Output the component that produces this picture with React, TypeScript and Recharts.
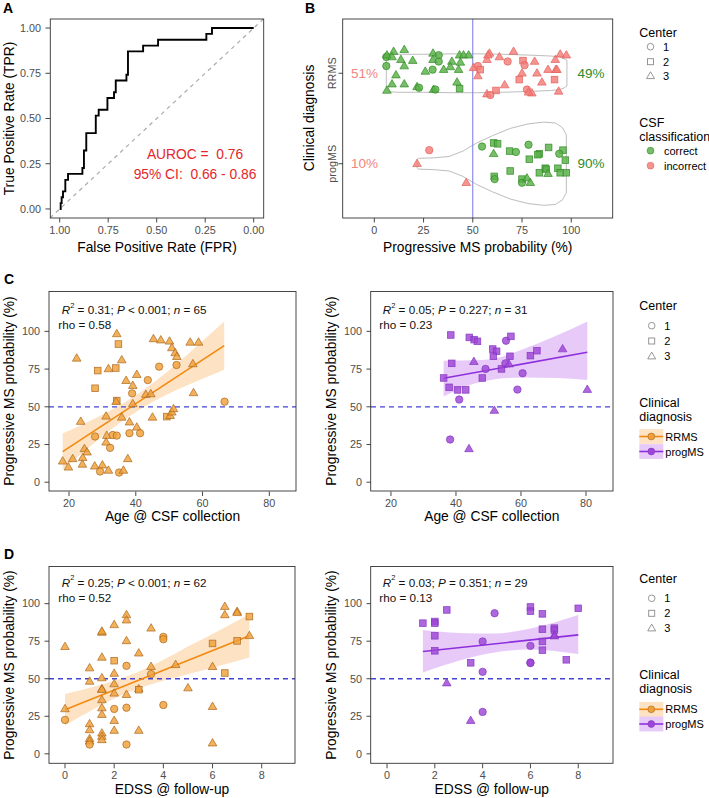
import React from 'react';
import { ComposedChart, XAxis, YAxis, Line, Area, Scatter, ReferenceLine } from 'recharts';

const FONT = '"Liberation Sans", Arial, Helvetica, sans-serif';
const TICK = { fontSize: 10.8, fill: '#4d4d4d', fontFamily: FONT };

// ---------- Panel A: ROC curve (specificity on a reversed axis = FPR) ----------
const rocSpecificity = [1, 0.995, 0.99, 0.983, 0.971, 0.957, 0.883, 0.875, 0.863, 0.814, 0.799, 0.754, 0.72, 0.711, 0.656, 0.648, 0.57, 0.493, 0.244, 0.215, 0];
const rocSensitivity = [0, 0.032, 0.065, 0.097, 0.161, 0.194, 0.226, 0.323, 0.419, 0.516, 0.548, 0.613, 0.645, 0.71, 0.742, 0.871, 0.903, 0.935, 0.968, 1, 1];
const chanceX = [1.05, -0.05];
const chanceY = [-0.05, 1.05];
const unitTicks = [0, 0.25, 0.5, 0.75, 1];
const aurocLines = ['AUROC =  0.76', '95% CI:  0.66 - 0.86'];

// ---------- Panel B: CSF classifier probability by clinical diagnosis ----------
// [probability %, vertical jitter, center]
const rrmsCorrect: number[][] = [
  [6.1, 0.18, 1], [6.4, 0.2, 3], [9.8, 0.24, 3], [9.0, 0.18, 3], [15.2, 0.26, 3], [13.5, 0.15, 3], [19.5, 0.14, 3],
  [6.1, 0.08, 1], [11.0, -0.02, 3], [15.2, 0.08, 3], [9.0, -0.12, 3], [15.2, -0.12, 3], [6.4, -0.19, 3], [21.7, -0.15, 3],
  [22.7, -0.16, 1], [25.9, 0.02, 3], [29.8, 0.22, 3], [32.7, 0.2, 1], [29.8, 0.15, 3], [32.7, 0.13, 1], [29.6, 0.04, 1],
  [35.2, 0.04, 3], [30.1, -0.18, 3], [31.0, -0.18, 1], [39.4, 0.13, 3], [38.6, 0.07, 3], [42.8, 0.04, 3], [43.3, 0.2, 3],
  [45.3, 0.2, 3], [47.9, 0.2, 3], [43.7, 0.12, 3], [42.0, -0.1, 3], [43.3, -0.17, 2],
];
const rrmsIncorrect: number[][] = [
  [50.4, 0.06, 3], [52.6, 0.08, 1], [53.8, 0.04, 2], [52.6, -0.03, 3], [57.2, 0.15, 3], [58.5, 0.22, 3], [57.7, 0.2, 3],
  [63.5, 0.18, 3], [67.7, 0.13, 1], [70.7, 0.24, 3], [75.5, 0.14, 2], [76.3, 0.09, 1], [81.4, 0.13, 3], [75.0, 0.0, 3],
  [73.6, -0.07, 2], [66.2, -0.13, 3], [61.8, -0.19, 2], [57.2, -0.23, 3], [58.9, -0.24, 1], [77.5, -0.18, 1], [80.0, -0.22, 3],
  [78.3, -0.21, 3], [82.6, 0.0, 3], [85.1, -0.1, 3], [88.2, 0.04, 3], [91.5, -0.07, 2], [92.2, 0.04, 3], [92.7, 0.04, 3],
  [91.9, 0.15, 3], [93.6, -0.2, 3], [94.4, 0.21, 3], [97.5, 0.2, 3],
];
const progCorrect: number[][] = [
  [54.7, 0.19, 1], [60.6, 0.23, 2], [62.6, 0.22, 2], [60.6, 0.11, 3], [68.7, 0.14, 2], [71.9, 0.13, 1], [78.3, 0.21, 1],
  [78.7, 0.05, 2], [83.8, 0.11, 2], [83.0, 0.1, 2], [88.5, 0.18, 2], [95.8, 0.15, 2], [93.9, 0.11, 1], [97.0, 0.04, 2],
  [69.0, -0.08, 2], [60.9, -0.14, 2], [61.1, -0.17, 1], [75.0, -0.17, 2], [75.0, -0.21, 1], [77.5, -0.16, 3], [79.2, -0.21, 3],
  [83.8, -0.1, 2], [86.8, -0.05, 2], [87.3, -0.06, 2], [88.2, -0.11, 3], [93.2, -0.05, 2], [94.4, -0.1, 2], [97.5, -0.1, 2],
];
const progIncorrect: number[][] = [[27.9, 0.15, 1], [21.7, 0.0, 3], [46.7, -0.21, 3]];

// violin half-widths (category units) along the probability axis
const rrmsViolinX = [6.1, 6.6, 8, 12, 25, 40, 52, 65, 80, 90, 94, 96.5, 97.8];
const rrmsViolinHalf = [0.15, 0.185, 0.205, 0.21, 0.21, 0.215, 0.215, 0.21, 0.2, 0.19, 0.18, 0.16, 0.14];
const progViolinX = [21.7, 22.5, 30, 38, 45, 52, 60, 69, 78, 86, 92, 95.5, 97.5];
const progViolinHalf = [0.045, 0.06, 0.065, 0.08, 0.14, 0.23, 0.31, 0.39, 0.44, 0.46, 0.45, 0.4, 0.32];

const diagnosisLevels = ['progMS', 'RRMS'];
const percentTicks = [0, 25, 50, 75, 100];
const correctShare = [
  { x: -5, y: 2, text: '51%', good: false },
  { x: 110, y: 2, text: '49%', good: true },
  { x: -5, y: 1, text: '10%', good: false },
  { x: 110, y: 1, text: '90%', good: true },
];

// ---------- Panel C: probability vs age ----------
// [age, probability %, center]
const ageRrms: number[][] = [
  [22.3, 82.1, 3], [34.3, 98.3, 3], [34.8, 91.6, 2], [28.6, 74.0, 2], [31.8, 75.1, 3], [34.0, 75.7, 2], [35.8, 81.0, 3],
  [27.8, 62.3, 2], [37.1, 67.3, 3], [39.1, 64.0, 3], [40.3, 71.3, 3], [43.6, 67.7, 1], [38.9, 58.9, 1], [34.3, 54.1, 2],
  [34.1, 53.4, 3], [39.1, 51.9, 3], [43.0, 58.1, 3], [44.5, 58.5, 3], [45.3, 95.0, 3], [47.5, 94.2, 3], [50.1, 93.4, 3],
  [50.8, 89.0, 3], [51.8, 85.7, 3], [52.3, 83.2, 3], [47.0, 76.6, 1], [52.2, 77.7, 1], [56.3, 92.7, 3], [58.8, 92.7, 3],
  [57.1, 78.4, 3], [57.3, 59.2, 3], [66.6, 53.4, 1], [23.5, 40.2, 3], [31.1, 43.7, 3], [35.8, 43.0, 3], [38.1, 39.8, 3],
  [40.3, 36.4, 3], [38.1, 32.5, 1], [41.3, 32.5, 1], [45.0, 43.0, 3], [49.3, 43.5, 2], [50.3, 44.1, 3], [50.8, 46.4, 3],
  [51.3, 48.6, 3], [27.8, 30.3, 1], [31.3, 30.9, 3], [33.1, 31.3, 1], [34.3, 30.9, 1], [31.1, 26.5, 3], [32.3, 22.8, 1],
  [24.6, 22.1, 3], [25.4, 19.9, 3], [18.1, 13.9, 3], [21.1, 15.5, 3], [19.8, 9.9, 3], [24.1, 16.2, 3], [24.0, 11.8, 3],
  [27.7, 10.6, 3], [30.0, 11.3, 3], [29.3, 7.1, 1], [31.8, 7.8, 3], [35.0, 6.4, 1], [36.3, 7.8, 3], [37.6, 15.5, 3],
];
const ageRrmsFit = [[18.1, 20.3], [66.5, 90.5]];
const ageRrmsBandX = [18.1, 25, 32, 39, 46, 53, 60, 66.5];
const ageRrmsBandLo = [8.3, 21.3, 34, 45.1, 54.3, 61.9, 68.6, 74.5];
const ageRrmsBandHi = [32.3, 39.3, 47, 56.1, 67.3, 79.9, 93.6, 106.5];

const ageProg: number[][] = [
  [38.4, 97.6, 2], [44.1, 96.0, 2], [45.6, 94.5, 2], [46.6, 93.4, 2], [55.4, 93.8, 1], [56.9, 96.7, 2], [51.3, 88.3, 2],
  [52.5, 86.8, 2], [51.5, 83.5, 2], [56.6, 83.5, 2], [62.9, 83.9, 2], [64.9, 87.2, 2], [72.8, 88.3, 3], [38.7, 78.8, 2],
  [45.5, 79.9, 3], [49.1, 75.1, 1], [54.0, 75.1, 2], [55.2, 78.8, 1], [56.3, 78.3, 3], [60.5, 72.2, 1], [36.2, 69.1, 2],
  [48.1, 69.1, 2], [37.9, 62.9, 2], [40.5, 61.2, 2], [43.0, 61.2, 2], [58.9, 61.4, 1], [41.0, 54.8, 1], [80.4, 61.4, 3],
  [51.8, 47.5, 3], [38.2, 28.3, 1], [44.0, 22.1, 3],
];
const ageProgFit = [[36.2, 68.9], [80.4, 86.1]];
const ageProgBandX = [36.2, 45.5, 50.6, 60.8, 71, 80.4];
const ageProgBandLo = [56.8, 65.2, 67.8, 69.5, 69.1, 67.8];
const ageProgBandHi = [80.6, 80.8, 81.5, 88.3, 97.2, 106.6];
const ageTicks = [20, 40, 60, 80];

// ---------- Panel D: probability vs EDSS ----------
const edssRrms: number[][] = [
  [0, 71.3, 3], [0, 29.9, 3], [0, 22.6, 1], [1, 57.1, 3], [1, 48.2, 3], [1, 19.9, 3], [1, 15.9, 3], [1, 10.0, 3], [1, 8.4, 3],
  [1, 6.2, 1], [1.5, 80.8, 3], [1.5, 81.5, 3], [1.5, 64.2, 3], [1.5, 50.5, 3], [1.5, 43.2, 3], [1.5, 42.7, 3], [1.5, 35.9, 3],
  [1.5, 30.5, 3], [1.5, 26.1, 3], [1.5, 13.7, 3], [1.5, 11.5, 3], [1.5, 9.3, 3], [2, 85.9, 3], [2, 62.0, 2], [2, 53.5, 3],
  [2, 46.5, 3], [2, 40.3, 3], [2, 29.9, 1], [2, 22.1, 3], [2, 15.5, 3], [2.5, 92.5, 3], [2.5, 89.0, 3], [2.5, 75.2, 3],
  [2.5, 58.6, 1], [2.5, 39.4, 3], [2.5, 30.7, 1], [2.5, 6.2, 1], [3, 67.0, 3], [3, 43.2, 3], [3, 42.7, 2], [3, 15.5, 3],
  [3.5, 83.6, 3], [3.5, 58.0, 3], [3.5, 53.1, 1], [4, 77.9, 1], [4, 76.3, 1], [4, 32.5, 1], [4.5, 59.3, 3], [5, 43.8, 3],
  [6, 73.5, 2], [6, 58.0, 3], [6, 31.4, 3], [6, 7.1, 3], [6.5, 98.0, 3], [6.5, 92.5, 3], [6.5, 53.8, 2], [7, 94.7, 3],
  [7, 93.9, 3], [7, 75.2, 2], [7.5, 91.4, 2], [7.5, 78.6, 3],
];
const edssRrmsFit = [[0, 29.4], [7.5, 78.6]];
const edssRrmsBandX = [0, 1.25, 2.5, 3.75, 5, 6.25, 7.5];
const edssRrmsBandLo = [18.8, 30.5, 40.5, 47.5, 53, 58.5, 64.2];
const edssRrmsBandHi = [39.8, 45, 51.5, 60.5, 71.5, 82, 93];

const edssProg: number[][] = [
  [1.5, 87.0, 2], [2, 88.1, 2], [2, 87.0, 2], [2.5, 95.8, 2], [2, 78.6, 2], [2, 68.6, 2], [2.5, 47.1, 3], [3.5, 60.6, 2],
  [3.5, 22.1, 3], [4, 74.8, 1], [4, 54.6, 1], [4, 27.9, 1], [4.5, 93.6, 1], [6, 97.8, 2], [6, 95.0, 2], [6, 71.9, 1],
  [6, 60.8, 1], [6, 60.4, 1], [6.5, 93.2, 2], [6.5, 83.0, 2], [6.5, 74.8, 2], [6.5, 69.0, 2], [7, 83.7, 2], [7, 82.4, 2],
  [7, 79.0, 3], [7, 78.4, 3], [7.5, 62.6, 2], [8, 96.9, 2],
];
const edssProgFit = [[1.5, 68.1], [8, 79.2]];
const edssProgBandX = [1.5, 3, 4.5, 6, 8];
const edssProgBandLo = [54.2, 62, 67.5, 69.5, 66.4];
const edssProgBandHi = [82.5, 80.5, 80.1, 83.5, 92.5];
const edssTicks = [0, 2, 4, 6, 8];

// statistics printed in the corner of each scatter panel
const statNotes = [
  { r2: '0.31', op: '<', p: '0.001', n: '65', rho: '0.58' },
  { r2: '0.05', op: '=', p: '0.227', n: '31', rho: '0.23' },
  { r2: '0.25', op: '<', p: '0.001', n: '62', rho: '0.52' },
  { r2: '0.03', op: '=', p: '0.351', n: '29', rho: '0.13' },
];
const centerLevels = ['1', '2', '3'];
const diagnosisKeys = ['RRMS', 'progMS'];

// ---------- styling ----------
const RRMS = { fill: '#F0A038', stroke: '#A8651A', line: '#F28A10', ribbon: '#FBBF7A' };
const PROG = { fill: '#9D45D6', stroke: '#8334C0', line: '#8E2FDE', ribbon: '#C98AF0' };
const GOOD = { fill: '#58B047', stroke: '#2F8A24', text: '#2E8B2A' };
const BAD = { fill: '#F47C78', stroke: '#E25E5A', text: '#F08580' };

type Box = { x0: number; y0: number; x1: number; y1: number };
const boxA: Box = { x0: 50.3, y0: 19, x1: 263.7, y1: 218 };
const boxB: Box = { x0: 342.7, y0: 19, x1: 612.7, y1: 218 };
const boxCL: Box = { x0: 49, y0: 291.5, x1: 296, y1: 491 };
const boxCR: Box = { x0: 370.7, y0: 291.5, x1: 613, y1: 491 };
const boxDL: Box = { x0: 49, y0: 566.5, x1: 295, y1: 763.3 };
const boxDR: Box = { x0: 370.7, y0: 566.5, x1: 613, y1: 763.3 };

const YW = 50;
const XH = 36;
const PAD = 6;

const xAxisBase = {
  type: 'number' as const,
  dataKey: 'x',
  allowDataOverflow: true,
  interval: 0 as const,
  axisLine: false,
  tickLine: { stroke: '#333', strokeWidth: 0.9 },
  tickSize: 4.5,
  tickMargin: 3.5,
  tick: TICK,
  height: XH,
};
const yAxisBase = {
  type: 'number' as const,
  dataKey: 'y',
  allowDataOverflow: true,
  interval: 0 as const,
  axisLine: false,
  tickLine: { stroke: '#333', strokeWidth: 0.9 },
  tickSize: 4.5,
  tickMargin: 4.5,
  tick: TICK,
  width: YW,
};

function Slot({ box, children }: { box: Box; children: (w: number, h: number) => React.ReactNode }) {
  const w = box.x1 - box.x0 + YW + PAD;
  const h = box.y1 - box.y0 + PAD + XH;
  return (
    <div style={{ position: 'absolute', left: box.x0 - YW, top: box.y0 - PAD, width: w, height: h }}>
      {children(w, h)}
    </div>
  );
}
const MARGIN = { top: PAD, right: PAD, bottom: 0, left: 0 };

function marker(fill: string, stroke: string) {
  return (p: any) => {
    const { cx, cy, payload } = p;
    if (cx == null || cy == null) return <g />;
    const st = { fill, stroke, strokeWidth: 0.8, fillOpacity: 0.82, strokeOpacity: 0.85 };
    if (payload.center === 1) return <circle cx={cx} cy={cy} r={3.7} {...st} />;
    if (payload.center === 2) return <rect x={cx - 3.3} y={cy - 3.3} width={6.6} height={6.6} {...st} />;
    return <polygon points={`${cx},${cy - 4.6} ${cx + 4.3},${cy + 2.8} ${cx - 4.3},${cy + 2.8}`} {...st} />;
  };
}

// ---------- Panel A ----------
function RocPanel() {
  const roc = rocSpecificity.map((x, i) => ({ x, y: rocSensitivity[i] }));
  const chance = chanceX.map((x, i) => ({ x, y: chanceY[i] }));
  return (
    <Slot box={boxA}>
      {(w, h) => (
        <ComposedChart width={w} height={h} margin={MARGIN} data={roc}>
          <XAxis {...xAxisBase} domain={[-0.05, 1.05]} reversed ticks={unitTicks} tickFormatter={(v: number) => v.toFixed(2)} />
          <YAxis {...yAxisBase} domain={[-0.05, 1.05]} ticks={unitTicks} tickFormatter={(v: number) => v.toFixed(2)} />
          <Line data={chance} dataKey="y" type="linear" stroke="#ababab" strokeWidth={1.2} strokeDasharray="4 4" dot={false} activeDot={false} isAnimationActive={false} />
          <Line dataKey="y" type="stepAfter" stroke="#000" strokeWidth={1.9} dot={false} activeDot={false} isAnimationActive={false} />
        </ComposedChart>
      )}
    </Slot>
  );
}

// ---------- Panel B ----------
function violinOutline(xs: number[], half: number[], level: number) {
  const top = xs.map((x, i) => ({ x, y: level + half[i] }));
  const bottom = xs.map((x, i) => ({ x, y: level - half[i] })).reverse();
  return [...top, ...bottom, top[0]];
}
function toJittered(rows: number[][], level: number) {
  return rows.map(([x, j, center]) => ({ x, y: level + j, center }));
}

const DiagnosisTick = (p: any) => (
  <text x={p.x} y={p.y} transform={`rotate(-90 ${p.x} ${p.y})`} textAnchor="middle" fontSize={10.8} fill="#4d4d4d" fontFamily={FONT}>
    {diagnosisLevels[p.payload.value - 1]}
  </text>
);
const ShareLabel = (p: any) => {
  if (p.cx == null) return <g />;
  return (
    <text x={p.cx} y={p.cy} textAnchor="middle" dominantBaseline="central" fontSize={13.5} fontFamily={FONT} fill={p.payload.good ? GOOD.text : BAD.text}>
      {p.payload.text}
    </text>
  );
};

function ClassifierPanel() {
  return (
    <Slot box={boxB}>
      {(w, h) => (
        <ComposedChart width={w} height={h} margin={MARGIN}>
          <XAxis {...xAxisBase} domain={[-15.9, 121.2]} ticks={percentTicks} />
          <YAxis {...yAxisBase} domain={[0.4, 2.6]} ticks={[1, 2]} tickMargin={2.2} tick={DiagnosisTick} />
          <Line data={violinOutline(rrmsViolinX, rrmsViolinHalf, 2)} dataKey="y" type="linear" stroke="#bdbdbd" strokeWidth={1} dot={false} activeDot={false} isAnimationActive={false} />
          <Line data={violinOutline(progViolinX, progViolinHalf, 1)} dataKey="y" type="linear" stroke="#bdbdbd" strokeWidth={1} dot={false} activeDot={false} isAnimationActive={false} />
          <ReferenceLine x={50} stroke="#7676E8" strokeWidth={1} />
          <Scatter data={toJittered(rrmsCorrect, 2)} dataKey="y" shape={marker(GOOD.fill, GOOD.stroke)} isAnimationActive={false} />
          <Scatter data={toJittered(rrmsIncorrect, 2)} dataKey="y" shape={marker(BAD.fill, BAD.stroke)} isAnimationActive={false} />
          <Scatter data={toJittered(progCorrect, 1)} dataKey="y" shape={marker(GOOD.fill, GOOD.stroke)} isAnimationActive={false} />
          <Scatter data={toJittered(progIncorrect, 1)} dataKey="y" shape={marker(BAD.fill, BAD.stroke)} isAnimationActive={false} />
          <Scatter data={correctShare} dataKey="y" shape={ShareLabel} isAnimationActive={false} />
        </ComposedChart>
      )}
    </Slot>
  );
}

// ---------- Panels C and D ----------
type Pal = typeof RRMS;
function RegressionPanel(props: {
  box: Box; xDomain: number[]; xTicks: number[]; yDomain: number[];
  points: number[][]; fit: number[][]; bandX: number[]; bandLo: number[]; bandHi: number[]; pal: Pal;
}) {
  const { box, xDomain, xTicks, yDomain, points, fit, bandX, bandLo, bandHi, pal } = props;
  const band = bandX.map((x, i) => ({ x, band: [bandLo[i], bandHi[i]] }));
  const pts = points.map(([x, y, center]) => ({ x, y, center }));
  const line = fit.map(([x, y]) => ({ x, y }));
  return (
    <Slot box={box}>
      {(w, h) => (
        <ComposedChart width={w} height={h} margin={MARGIN} data={band}>
          <XAxis {...xAxisBase} domain={xDomain} ticks={xTicks} />
          <YAxis {...yAxisBase} domain={yDomain} ticks={percentTicks} />
          <Area dataKey="band" type="monotone" stroke="none" fill={pal.ribbon} fillOpacity={0.45} dot={false} activeDot={false} isAnimationActive={false} />
          <ReferenceLine y={50} stroke="#4444D4" strokeWidth={1.3} strokeDasharray="5 4" />
          <Line data={line} dataKey="y" type="linear" stroke={pal.line} strokeWidth={1.6} dot={false} activeDot={false} isAnimationActive={false} />
          <Scatter data={pts} dataKey="y" shape={marker(pal.fill, pal.stroke)} isAnimationActive={false} />
        </ComposedChart>
      )}
    </Slot>
  );
}

// ---------- overlay: frames, titles, legends, notes ----------
function Frame({ b }: { b: Box }) {
  return <rect x={b.x0} y={b.y0} width={b.x1 - b.x0} height={b.y1 - b.y0} fill="none" stroke="#333" strokeWidth={0.9} />;
}
function TitleX({ x, y, text }: { x: number; y: number; text: string }) {
  return <text x={x} y={y} textAnchor="middle" dominantBaseline="central" fontSize={13.8} fill="#000">{text}</text>;
}
function TitleY({ x, y, text }: { x: number; y: number; text: string }) {
  return (
    <text x={x} y={y} transform={`rotate(-90 ${x} ${y})`} textAnchor="middle" dominantBaseline="central" fontSize={13.8} fill="#000">
      {text}
    </text>
  );
}
function Note({ x, y, s }: { x: number; y: number; s: (typeof statNotes)[number] }) {
  return (
    <g fontSize={11.7} fill="#111">
      <text x={x} y={y} dominantBaseline="central">
        <tspan fontStyle="italic">R</tspan>
        <tspan fontSize={7.5} dy={-4.5}>2</tspan>
        <tspan dy={4.5}>{` = ${s.r2}; `}</tspan>
        <tspan fontStyle="italic">P</tspan>
        <tspan>{` ${s.op} ${s.p}; `}</tspan>
        <tspan fontStyle="italic">n</tspan>
        <tspan>{` = ${s.n}`}</tspan>
      </text>
      <text x={x - 3.4} y={y + 15.5} dominantBaseline="central">{`rho = ${s.rho}`}</text>
    </g>
  );
}
function HollowShape({ x, y, center }: { x: number; y: number; center: number }) {
  const st = { fill: 'none', stroke: '#8a8a8a', strokeWidth: 0.9 };
  if (center === 1) return <circle cx={x} cy={y} r={3.3} {...st} />;
  if (center === 2) return <rect x={x - 3} y={y - 3} width={6} height={6} {...st} />;
  return <polygon points={`${x},${y - 4.2} ${x + 4},${y + 2.6} ${x - 4},${y + 2.6}`} {...st} />;
}
function CenterLegend({ y, rows, sx }: { y: number; rows: number[]; sx: number }) {
  return (
    <g>
      <text x={639.3} y={y} dominantBaseline="central" fontSize={12.5}>Center</text>
      {centerLevels.map((lab, i) => (
        <g key={lab}>
          <HollowShape x={sx} y={rows[i]} center={i + 1} />
          <text x={sx + 12.5} y={rows[i]} dominantBaseline="central" fontSize={11}>{lab}</text>
        </g>
      ))}
    </g>
  );
}
function DiagnosisLegend({ y, rows }: { y: number; rows: number[] }) {
  const pals = [RRMS, PROG];
  return (
    <g>
      <text x={639.3} y={y} dominantBaseline="central" fontSize={12.5}>Clinical</text>
      <text x={639.3} y={y + 14.2} dominantBaseline="central" fontSize={12.5}>diagnosis</text>
      {diagnosisKeys.map((lab, i) => (
        <g key={lab}>
          <rect x={639.3} y={rows[i] - 7.4} width={24} height={14.8} fill={pals[i].ribbon} fillOpacity={0.45} />
          <line x1={639.3} x2={663.3} y1={rows[i]} y2={rows[i]} stroke={pals[i].line} strokeWidth={1.6} />
          <circle cx={651.3} cy={rows[i]} r={3.4} fill={pals[i].fill} stroke={pals[i].stroke} strokeWidth={0.6} />
          <text x={665.3} y={rows[i]} dominantBaseline="central" fontSize={11}>{lab}</text>
        </g>
      ))}
    </g>
  );
}

function Overlay() {
  return (
    <svg width={709} height={798} style={{ position: 'absolute', left: 0, top: 0, pointerEvents: 'none' }} fontFamily={FONT}>
      {[boxA, boxB, boxCL, boxCR, boxDL, boxDR].map((b, i) => <Frame key={i} b={b} />)}
      <g fontSize={14} fontWeight="bold" fill="#000">
        <text x={3} y={12.5}>A</text>
        <text x={305} y={12.5}>B</text>
        <text x={4} y={283.5}>C</text>
        <text x={4} y={559}>D</text>
      </g>
      <TitleY x={9} y={118.5} text="True Positive Rate (TPR)" />
      <TitleX x={157} y={247} text="False Positive Rate (FPR)" />
      <g fill="#E4262B" fontSize={13.8} textAnchor="middle" style={{ whiteSpace: 'pre' }}>
        <text x={195} y={154} dominantBaseline="central" style={{ whiteSpace: 'pre' }}>{aurocLines[0]}</text>
        <text x={195} y={174} dominantBaseline="central" style={{ whiteSpace: 'pre' }}>{aurocLines[1]}</text>
      </g>
      <TitleY x={309} y={118} text="Clinical diagnosis" />
      <TitleX x={477.7} y={247} text="Progressive MS probability (%)" />
      <TitleY x={9} y={391} text="Progressive MS probability (%)" />
      <TitleY x={331.5} y={391} text="Progressive MS probability (%)" />
      <TitleX x={172.5} y={516.7} text="Age @ CSF collection" />
      <TitleX x={491.8} y={516.7} text="Age @ CSF collection" />
      <TitleY x={9} y={665} text="Progressive MS probability (%)" />
      <TitleY x={331.5} y={665} text="Progressive MS probability (%)" />
      <TitleX x={172} y={789.3} text="EDSS @ follow-up" />
      <TitleX x={491.8} y={789.3} text="EDSS @ follow-up" />
      <Note x={61.7} y={309} s={statNotes[0]} />
      <Note x={382.7} y={309} s={statNotes[1]} />
      <Note x={61.7} y={581.7} s={statNotes[2]} />
      <Note x={382.7} y={581.7} s={statNotes[3]} />
      <CenterLegend y={33.3} rows={[46.7, 61.7, 76]} sx={650.5} />
      <g>
        <text x={639.3} y={123.3} dominantBaseline="central" fontSize={12.5}>CSF</text>
        <text x={639.3} y={137.3} dominantBaseline="central" fontSize={12.5}>classification</text>
        <circle cx={650.5} cy={150.7} r={3.4} fill={GOOD.fill} fillOpacity={0.82} stroke={GOOD.stroke} strokeWidth={0.6} />
        <text x={664} y={150.7} dominantBaseline="central" fontSize={11}>correct</text>
        <circle cx={650.5} cy={165.7} r={3.4} fill={BAD.fill} fillOpacity={0.82} stroke={BAD.stroke} strokeWidth={0.6} />
        <text x={664} y={165.7} dominantBaseline="central" fontSize={11}>incorrect</text>
      </g>
      <CenterLegend y={306} rows={[325.7, 341, 356.3]} sx={651.7} />
      <DiagnosisLegend y={402.7} rows={[436.5, 451.5]} />
      <CenterLegend y={579} rows={[598.3, 613.3, 628.3]} sx={651.7} />
      <DiagnosisLegend y={675} rows={[709.3, 724]} />
    </svg>
  );
}

export default function App() {
  return (
    <div style={{ position: 'absolute', left: 0, top: 0, width: 709, height: 798, background: '#fff', fontFamily: FONT, overflow: 'hidden' }}>
      <RocPanel />
      <ClassifierPanel />
      <RegressionPanel box={boxCL} xDomain={[14, 88]} xTicks={ageTicks} yDomain={[-6.16, 126.1]} points={ageRrms} fit={ageRrmsFit}
        bandX={ageRrmsBandX} bandLo={ageRrmsBandLo} bandHi={ageRrmsBandHi} pal={RRMS} />
      <RegressionPanel box={boxCR} xDomain={[13.86, 88.4]} xTicks={ageTicks} yDomain={[-6.16, 126.1]} points={ageProg} fit={ageProgFit}
        bandX={ageProgBandX} bandLo={ageProgBandLo} bandHi={ageProgBandHi} pal={PROG} />
      <RegressionPanel box={boxDL} xDomain={[-0.651, 9.354]} xTicks={edssTicks} yDomain={[-6.64, 124.4]} points={edssRrms} fit={edssRrmsFit}
        bandX={edssRrmsBandX} bandLo={edssRrmsBandLo} bandHi={edssRrmsBandHi} pal={RRMS} />
      <RegressionPanel box={boxDR} xDomain={[-0.67, 9.466]} xTicks={edssTicks} yDomain={[-6.64, 124.4]} points={edssProg} fit={edssProgFit}
        bandX={edssProgBandX} bandLo={edssProgBandLo} bandHi={edssProgBandHi} pal={PROG} />
      <Overlay />
    </div>
  );
}
